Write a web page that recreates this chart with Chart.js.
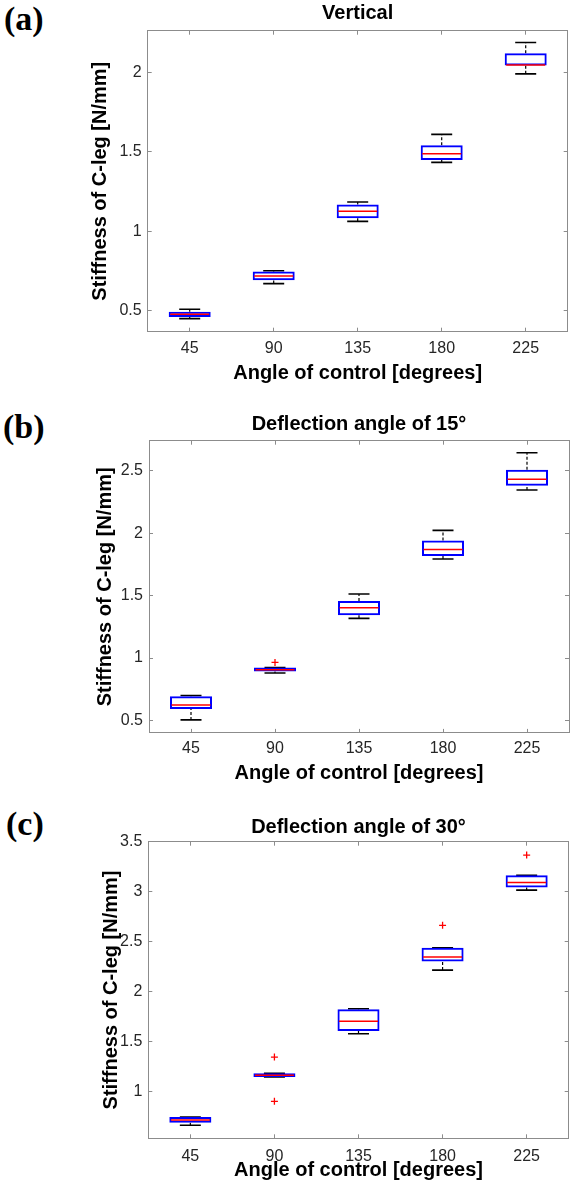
<!DOCTYPE html>
<html lang="en">
<head>
  <meta charset="UTF-8" />
  <meta name="viewport" content="width=device-width, initial-scale=1.0" />
  <title>Stiffness of C-leg vs angle of control</title>
  <script src="https://cdn.jsdelivr.net/npm/chart.js"></script>
  <style>
    body {
      margin: 0;
      background: #fff;
      width: 578px;
      height: 1186px;
      position: relative;
      overflow: hidden;
    }
    .panel {
      position: absolute;
      left: 0;
      width: 578px;
    }
    .tag {
      position: absolute;
      font-family: "Liberation Serif", "Times New Roman", serif;
      font-weight: bold;
      font-size: 34px;
      line-height: 1;
      color: #000;
    }
  </style>
</head>
<body>
  <div class="tag" style="left: 4px; top: 2px;">(a)</div>
  <div class="tag" style="left: 3px; top: 410px;">(b)</div>
  <div class="tag" style="left: 6px; top: 807px;">(c)</div>

  <div class="panel" style="top: 0; height: 395px;"><canvas id="chartA"></canvas></div>
  <div class="panel" style="top: 395px; height: 395px;"><canvas id="chartB"></canvas></div>
  <div class="panel" style="top: 790px; height: 396px;"><canvas id="chartC"></canvas></div>

  <script>
    // Angle of control (x categories), shared by all three panels.
    const categories = ["45", "90", "135", "180", "225"];

    // (a) Vertical: whisker ends, quartiles and medians.
    const aLow = [0.452, 0.672, 1.063, 1.433, 1.989];
    const aQ1 = [0.462, 0.693, 1.082, 1.448, 2.042];
    const aMed = [0.479, 0.719, 1.127, 1.488, 2.045];
    const aQ3 = [0.496, 0.748, 1.169, 1.541, 2.118];
    const aHigh = [0.511, 0.753, 1.184, 1.609, 2.186];
    const aOutCats = [];
    const aOutVals = [];
    const aTicks = [0.5, 1, 1.5, 2];

    // (b) Deflection angle of 15°
    const bLow = [0.505, 0.880, 1.318, 1.793, 2.345];
    const bQ1 = [0.593, 0.893, 1.342, 1.817, 2.380];
    const bMed = [0.625, 0.906, 1.403, 1.870, 2.431];
    const bQ3 = [0.695, 0.925, 1.457, 1.942, 2.508];
    const bHigh = [0.700, 0.925, 1.513, 2.022, 2.644];
    const bOutCats = ["90"];
    const bOutVals = [0.965];
    const bTicks = [0.5, 1, 1.5, 2, 2.5];

    // (c) Deflection angle of 30°
    const cLow = [0.664, 1.148, 1.580, 2.216, 3.016];
    const cQ1 = [0.690, 1.148, 1.606, 2.301, 3.043];
    const cMed = [0.717, 1.165, 1.705, 2.348, 3.092];
    const cQ3 = [0.746, 1.185, 1.824, 2.440, 3.165];
    const cHigh = [0.746, 1.185, 1.830, 2.440, 3.165];
    const cOutCats = ["90", "90", "180", "225"];
    const cOutVals = [1.346, 0.904, 2.664, 3.366];
    const cTicks = [1, 1.5, 2, 2.5, 3, 3.5];

    const FONT = '"Liberation Sans", Arial, Helvetica, sans-serif';
    const AXIS_GRAY = "#8c8c8c";

    // Build the box plot out of a floating bar (box) and point/line datasets.
    function boxDatasets(low, q1, med, q3, high, outCats, outVals) {
      const stems = [];
      const caps = [];
      categories.forEach((c, i) => {
        stems.push({ x: c, y: low[i] }, { x: c, y: q1[i] }, { x: c, y: null });
        stems.push({ x: c, y: q3[i] }, { x: c, y: high[i] }, { x: c, y: null });
        caps.push({ x: c, y: low[i] }, { x: c, y: high[i] });
      });

      return [
        {
          type: "bar",
          data: categories.map((c, i) => [q1[i], q3[i]]),
          backgroundColor: "rgba(0,0,0,0)",
          borderColor: "#0000ff",
          borderWidth: 2,
          borderSkipped: false,
          barPercentage: 0.5,
          categoryPercentage: 1,
          order: 2
        },
        {
          // dashed whisker stems
          type: "line",
          data: stems,
          borderColor: "#000",
          borderWidth: 1.2,
          borderDash: [3, 2],
          pointRadius: 0,
          spanGaps: false,
          order: 4
        },
        {
          // whisker caps
          type: "line",
          data: caps,
          showLine: false,
          pointStyle: "line",
          pointRadius: 10.5,
          pointBorderColor: "#000",
          pointBorderWidth: 1.6,
          order: 3
        },
        {
          // medians
          type: "line",
          data: categories.map((c, i) => ({ x: c, y: med[i] })),
          showLine: false,
          pointStyle: "line",
          pointRadius: 19.5,
          pointBorderColor: "#ff0000",
          pointBorderWidth: 1.5,
          order: 1
        },
        {
          // outliers
          type: "line",
          data: outCats.map((c, i) => ({ x: c, y: outVals[i] })),
          showLine: false,
          pointStyle: "cross",
          pointRadius: 3.5,
          pointBorderColor: "#ff0000",
          pointBorderWidth: 1.3,
          order: 0
        }
      ];
    }

    function makePanel(id, title, datasets, yMin, yMax, yTicks, lay) {
      const setTicks = (scale) => {
        scale.ticks = yTicks.map((v) => ({ value: v }));
      };
      const frame = { display: true, color: AXIS_GRAY, width: 1 };
      // MATLAB-style tick marks pointing into the plot box.
      const inwardTicks = {
        drawOnChartArea: false,
        drawTicks: true,
        tickLength: -4,
        color: AXIS_GRAY,
        offset: false
      };

      new Chart(document.getElementById(id), {
        type: "bar",
        data: { labels: categories, datasets: datasets },
        options: {
          responsive: true,
          maintainAspectRatio: false,
          animation: false,
          events: [],
          layout: {
            autoPadding: false,
            padding: { left: 0, right: lay.right, top: 0, bottom: 0 }
          },
          plugins: {
            legend: { display: false },
            tooltip: { enabled: false },
            title: {
              display: true,
              text: title,
              fullSize: false,
              color: "#000",
              font: { family: FONT, size: 20, weight: "bold" },
              padding: { top: lay.titleTop, bottom: lay.titleBottom }
            }
          },
          scales: {
            x: {
              type: "category",
              position: "bottom",
              offset: true,
              grid: inwardTicks,
              border: frame,
              ticks: {
                color: "#262626",
                font: { family: FONT, size: 16 },
                padding: lay.xTickPad,
                maxRotation: 0
              },
              title: {
                display: true,
                text: "Angle of control [degrees]",
                color: "#000",
                font: { family: FONT, size: 20, weight: "bold" },
                padding: { top: 0, bottom: lay.xTitlePad }
              },
              afterFit: (s) => { s.height = lay.xHeight; }
            },
            xTop: {
              type: "category",
              position: "top",
              offset: true,
              grid: inwardTicks,
              border: frame,
              ticks: { display: false },
              afterFit: (s) => { s.height = 0; }
            },
            y: {
              type: "linear",
              position: "left",
              min: yMin,
              max: yMax,
              grid: inwardTicks,
              border: frame,
              afterBuildTicks: setTicks,
              ticks: {
                color: "#262626",
                font: { family: FONT, size: 16 },
                padding: 10,
                callback: (v) => String(v)
              },
              title: {
                display: true,
                text: "Stiffness of C-leg [N/mm]",
                color: "#000",
                font: { family: FONT, size: 20, weight: "bold" },
                padding: { top: lay.yTitlePad, bottom: 0 }
              },
              afterFit: (s) => { s.width = lay.yWidth; }
            },
            yRight: {
              type: "linear",
              position: "right",
              min: yMin,
              max: yMax,
              grid: inwardTicks,
              border: frame,
              afterBuildTicks: setTicks,
              ticks: { display: false },
              afterFit: (s) => { s.width = 0; }
            }
          }
        }
      });
    }

    document.addEventListener("DOMContentLoaded", () => {
      makePanel("chartA", "Vertical",
        boxDatasets(aLow, aQ1, aMed, aQ3, aHigh, aOutCats, aOutVals),
        0.37, 2.26, aTicks,
        { right: 10.3, yWidth: 147.7, xHeight: 63.3, titleTop: 1.7, titleBottom: 5.0,
          xTickPad: 11.2, xTitlePad: 10, yTitlePad: 88 });

      makePanel("chartB", "Deflection angle of 15°",
        boxDatasets(bLow, bQ1, bMed, bQ3, bHigh, bOutCats, bOutVals),
        0.401, 2.74, bTicks,
        { right: 9, yWidth: 149, xHeight: 57.1, titleTop: 17.0, titleBottom: 4.7,
          xTickPad: 10.5, xTitlePad: 5, yTitlePad: 93 });

      makePanel("chartC", "Deflection angle of 30°",
        boxDatasets(cLow, cQ1, cMed, cQ3, cHigh, cOutCats, cOutVals),
        0.534, 3.5, cTicks,
        { right: 9.3, yWidth: 148.3, xHeight: 47.7, titleTop: 25.7, titleBottom: 2.0,
          xTickPad: 12.8, xTitlePad: 4, yTitlePad: 99 });
    });
  </script>
</body>
</html>
